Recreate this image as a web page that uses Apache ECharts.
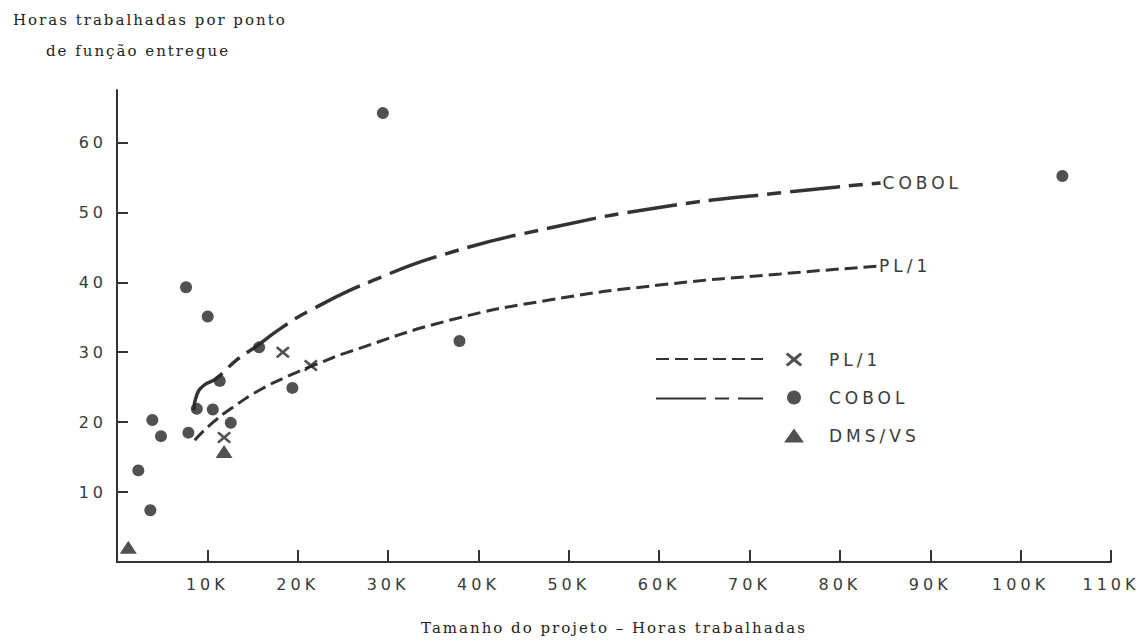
<!DOCTYPE html>
<html>
<head>
<meta charset="utf-8">
<script src="https://cdn.jsdelivr.net/npm/echarts@6/dist/echarts.min.js"></script>
<style>
html,body{margin:0;padding:0;background:#fff;}
#c{width:1145px;height:640px;}
svg text{letter-spacing:4px;}
svg text[style*="Serif"], svg text[font-family*="Serif"]{letter-spacing:2px;}
</style>
</head>
<body>
<div id="c"></div>
<script>
// ---- data ----
const xTickValues = [10000, 20000, 30000, 40000, 50000, 60000, 70000, 80000, 90000, 100000, 110000];
const yTickValues = [10, 20, 30, 40, 50, 60];

const cobolPoints = [
  [2360, 13.1], [3690, 7.4], [3910, 20.3], [4870, 18.0], [7640, 39.3], [7900, 18.5],
  [8830, 21.9], [10040, 35.1], [10600, 21.8], [11370, 25.9], [12590, 19.9],
  [15730, 30.7], [19410, 24.9], [29420, 64.2], [37900, 31.6], [104620, 55.2]
];
const pl1Points = [[11850, 17.8], [18350, 30.0], [21450, 28.1]];
const dmsPoints = [[1250, 2.1], [11850, 15.8]];

const cobolCurve = [
  [8500, 21.7], [8800, 23.8], [9560, 25.2], [11040, 26.3], [13250, 28.9], [15500, 30.9],
  [18000, 33.3], [21400, 36.0], [28400, 40.3], [37000, 44.3], [48000, 47.8], [60000, 50.7],
  [73400, 52.8], [84500, 54.2]
];
const pl1Curve = [
  [8600, 17.4], [10300, 19.6], [12900, 22.2], [15800, 24.6], [18800, 26.5], [22100, 28.3],
  [26000, 30.2], [36900, 34.6], [48000, 37.5], [60000, 39.6], [73400, 41.2], [84100, 42.3]
];

const yTitle1 = 'Horas trabalhadas por ponto';
const yTitle2 = 'de função entregue';
const xTitle = 'Tamanho do projeto – Horas trabalhadas';

// ---- styles ----
const ink = '#262626';
const labelColor = '#3a3a3a';
const sans = 'DejaVu Sans';
const serif = 'DejaVu Serif';
const xPath = 'path://M0,2.5L2.5,0L10,6L17.5,0L20,2.5L13,8.5L20,14.5L17.5,17L10,11L2.5,17L0,14.5L7,8.5Z';

const chart = echarts.init(document.getElementById('c'), null, {renderer: 'svg'});
chart.setOption({
  backgroundColor: '#ffffff',
  animation: false,
  title: [
    {text: yTitle1, left: 8, top: 7, textStyle: {fontFamily: serif, fontSize: 15, fontWeight: 'normal', color: '#222'}},
    {text: yTitle2, left: 41, top: 38, textStyle: {fontFamily: serif, fontSize: 15, fontWeight: 'normal', color: '#222'}}
  ],
  grid: {left: 117, right: 34, top: 90, bottom: 75},
  legend: [
    {
      orient: 'vertical', left: 779, top: 346, itemWidth: 20, itemHeight: 14, itemGap: 21,
      selectedMode: false,
      data: [{name: 'PL/1', icon: xPath}, {name: 'COBOL', icon: 'circle'}, {name: 'DMS/VS', icon: 'triangle'}],
      textStyle: {fontFamily: sans, fontSize: 17, color: labelColor, padding: [0, 0, 0, 20]}
    },
    {
      orient: 'vertical', left: 650, top: 347, itemWidth: 107, itemHeight: 14, itemGap: 27,
      selectedMode: false,
      data: ['PL/1 curva', 'COBOL curva'],
      formatter: function () { return ''; },
      itemStyle: {color: 'rgba(0,0,0,0)', borderWidth: 0, opacity: 0},
      textStyle: {fontSize: 10}
    }
  ],
  xAxis: {
    type: 'value', min: 0, max: 110000, interval: 10000,
    name: xTitle, nameLocation: 'middle', nameGap: 58,
    nameTextStyle: {fontFamily: serif, fontSize: 15, color: '#222'},
    axisLine: {show: true, lineStyle: {color: '#333', width: 2}},
    axisTick: {show: true, inside: true, length: 12, customValues: xTickValues, lineStyle: {color: '#333', width: 2}},
    axisLabel: {customValues: xTickValues, margin: 14, fontFamily: sans, fontSize: 16, color: labelColor,
      formatter: function (v) { return (v / 1000) + 'K'; }},
    splitLine: {show: false}
  },
  yAxis: {
    type: 'value', min: 0, max: 67.5, interval: 10,
    axisLine: {show: true, lineStyle: {color: '#333', width: 2}},
    axisTick: {show: true, inside: true, length: 11, customValues: yTickValues, lineStyle: {color: '#333', width: 2}},
    axisLabel: {customValues: yTickValues, margin: 10, fontFamily: sans, fontSize: 16, color: labelColor},
    splitLine: {show: false}
  },
  series: [
    {
      name: 'COBOL curva', type: 'line', data: cobolCurve, smooth: 0.5, symbol: 'none', z: 2,
      itemStyle: {color: '#333'},
      lineStyle: {color: '#333', width: 3.5, type: [50, 9, 14, 9]},
      endLabel: {show: true, formatter: 'COBOL', distance: 2, fontFamily: sans, fontSize: 17, color: labelColor}
    },
    {
      name: 'PL/1 curva', type: 'line', data: pl1Curve, smooth: 0.5, symbol: 'none', z: 2,
      itemStyle: {color: '#333'},
      lineStyle: {color: '#333', width: 3, type: [13, 6]},
      endLabel: {show: true, formatter: 'PL/1', distance: 2, fontFamily: sans, fontSize: 17, color: labelColor}
    },
    {name: 'PL/1', type: 'scatter', data: pl1Points, symbol: xPath, symbolSize: [14, 12], itemStyle: {color: ink}, z: 3},
    {name: 'COBOL', type: 'scatter', data: cobolPoints, symbol: 'circle', symbolSize: 12, itemStyle: {color: ink}, z: 3},
    {name: 'DMS/VS', type: 'scatter', data: dmsPoints, symbol: 'triangle', symbolSize: [17, 13], itemStyle: {color: ink}, z: 3}
  ]
});
</script>
</body>
</html>
